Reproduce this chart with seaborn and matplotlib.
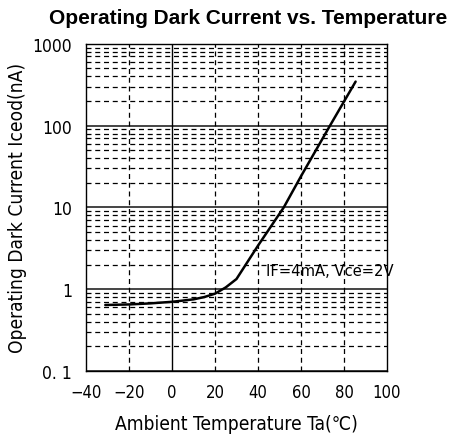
import numpy as np
import pandas as pd
import seaborn as sns
import matplotlib.pyplot as plt
from matplotlib.ticker import LogLocator, NullFormatter

# curve
temp_c = [-31, -20, -10, 0, 10, 15, 20, 25, 30, 40, 52, 60, 73.5, 85.4]
dark_na = [0.64, 0.65, 0.67, 0.70, 0.75, 0.80, 0.88, 1.05, 1.33, 3.4, 10, 24, 100, 345]

x_ticks = [-40, -20, 0, 20, 40, 60, 80, 100]
y_ticks = [0.1, 1, 10, 100, 1000]
y_tick_labels = ['0. 1', '1', '10', '100', '1000']

sns.set_style('white')
plt.rcParams['font.family'] = ['DejaVu Sans']
plt.rcParams['font.stretch'] = 'condensed'
plt.rcParams['text.color'] = 'black'
plt.rcParams['axes.labelcolor'] = 'black'
plt.rcParams['xtick.color'] = 'black'
plt.rcParams['ytick.color'] = 'black'

df = pd.DataFrame({'temp': temp_c, 'current': dark_na})

fig = plt.figure(figsize=(4.5, 4.35), dpi=100)
ax = fig.add_axes([0.191, 0.145, 0.669, 0.752])
ax.set_yscale('log')
ax.set_xlim(-40, 100)
ax.set_ylim(0.1, 1000)

#GRID
ax.yaxis.set_minor_locator(LogLocator(base=10, subs=np.arange(2, 10)))
ax.yaxis.set_minor_formatter(NullFormatter())
ax.grid(True, which='minor', axis='y', color='black', linestyle=(0, (4, 3)), linewidth=0.9)
ax.grid(True, which='major', axis='y', color='#444444', linestyle='-', linewidth=1.4)
for xv in x_ticks[1:-1]:
    if xv == 0:
        ax.axvline(xv, color='black', linewidth=1.0)
    else:
        ax.axvline(xv, color='black', linestyle=(0, (4, 3)), linewidth=0.9)

sns.lineplot(data=df, x='temp', y='current', ax=ax, color='black', linewidth=1.8)

ax.set_xticks(x_ticks)
ax.set_xticklabels([str(v).replace('-', '\u2212') for v in x_ticks], fontsize=12)
ax.set_yticks(y_ticks)
ax.set_yticklabels(y_tick_labels, fontsize=12.5)
ax.tick_params(axis='x', which='both', length=0, pad=9)
ax.tick_params(axis='y', which='both', length=0, pad=10)
for s in ax.spines.values():
    s.set_color('black')
    s.set_linewidth(1.0)

ax.set_xlabel('Ambient Temperature Ta(\u2103)', fontsize=13.8, labelpad=9)
ax.set_ylabel('Operating Dark Current Iceod(nA)', fontsize=13.8, labelpad=4)
ax.text(43.5, 1.68, 'IF=4mA, Vce=2V', fontsize=11.8, va='center', ha='left')
fig.text(0.552, 0.958, 'Operating Dark Current vs. Temperature', fontsize=15,
         weight='bold', stretch='normal', ha='center', va='center',
         family=['Liberation Sans', 'DejaVu Sans'])

fig.savefig('out.png', dpi=100)
